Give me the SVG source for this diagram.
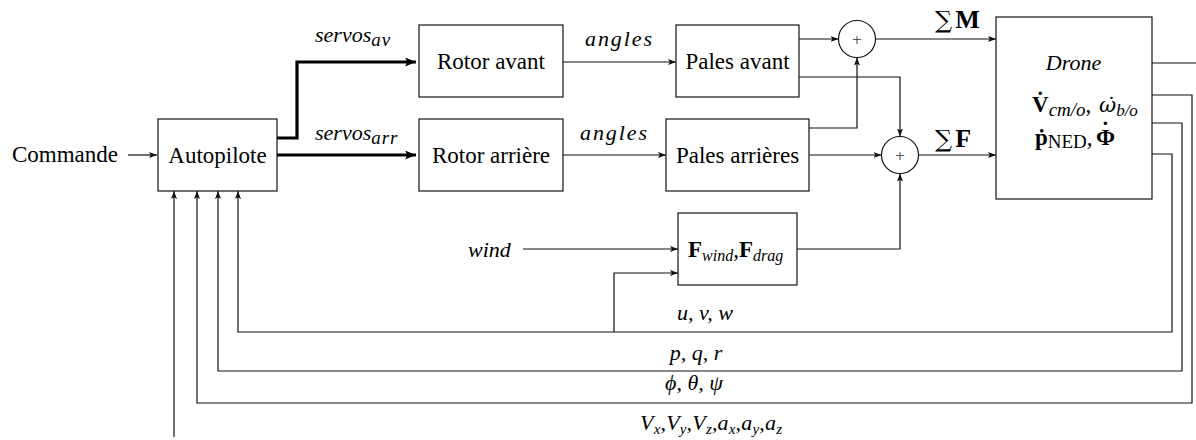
<svg xmlns="http://www.w3.org/2000/svg" width="1196" height="440" viewBox="0 0 1196 440">
<style>
.box{fill:#fff;stroke:#111;stroke-width:1.2}
.ln{fill:none;stroke:#111;stroke-width:1.2}
.thick{fill:none;stroke:#000;stroke-width:3.2}
.t{font-family:"Liberation Serif","Times New Roman",serif;font-size:23px;fill:#000}
.mi{font-family:"Liberation Serif","Times New Roman",serif;font-style:italic;font-size:22px;fill:#000}
.dv{font-family:"DejaVu Serif",serif}
.plus{font-family:"DejaVu Sans",sans-serif;font-size:13px;fill:#555}
</style>
<defs>
<marker id="ar" markerUnits="userSpaceOnUse" markerWidth="10" markerHeight="8" refX="8" refY="3" orient="auto">
<path d="M0,0 L8,3 L0,6 L1.8,3 z" fill="#111"/>
</marker>
<marker id="art" markerUnits="userSpaceOnUse" markerWidth="14" markerHeight="10" refX="11" refY="4.5" orient="auto">
<path d="M0,0 L11,4.5 L0,9 L2.5,4.5 z" fill="#000"/>
</marker>
</defs>

<g id="connectors">
<path class="ln" d="M128,155 H157" marker-end="url(#ar)"/>
<path class="thick" d="M277,138 H297 V62 H416" marker-end="url(#art)"/>
<path class="thick" d="M277,155 H416" marker-end="url(#art)"/>
<path class="ln" d="M563,62 H676" marker-end="url(#ar)"/>
<path class="ln" d="M563,155 H666" marker-end="url(#ar)"/>
<path class="ln" d="M799,39 H838.5" marker-end="url(#ar)"/>
<path class="ln" d="M799,77 H900 V136.5" marker-end="url(#ar)"/>
<path class="ln" d="M809,128 H857 V57.5" marker-end="url(#ar)"/>
<path class="ln" d="M809,155 H881.5" marker-end="url(#ar)"/>
<path class="ln" d="M875.5,39 H996" marker-end="url(#ar)"/>
<path class="ln" d="M918.5,155 H996" marker-end="url(#ar)"/>
<path class="ln" d="M523,249 H678" marker-end="url(#ar)"/>
<path class="ln" d="M797,249 H900 V173.5" marker-end="url(#ar)"/>
<path class="ln" d="M1152,63 H1196"/>
<path class="ln" d="M1152,95 H1192 V403 H197 V191" marker-end="url(#ar)"/>
<path class="ln" d="M1152,123 H1182 V371 H218 V191" marker-end="url(#ar)"/>
<path class="ln" d="M1152,154 H1172 V332 H238 V191" marker-end="url(#ar)"/>
<path class="ln" d="M614,332 V273 H678" marker-end="url(#ar)"/>
<path class="ln" d="M174,437 V191" marker-end="url(#ar)"/>
<text class="mi" x="315" y="42">servos<tspan font-size="19" letter-spacing="1" dy="4">av</tspan></text>
<text class="mi" x="315" y="140">servos<tspan font-size="19" letter-spacing="1" dy="4">arr</tspan></text>
<text class="mi" x="585" y="46" font-size="24" textLength="67" lengthAdjust="spacing">angles</text>
<text class="mi" x="580" y="140" font-size="24" textLength="67" lengthAdjust="spacing">angles</text>
<text class="t" x="935" y="28"><tspan font-family="DejaVu Serif" font-size="24">∑</tspan><tspan font-weight="bold" font-size="26" dx="3">M</tspan></text>
<text class="t" x="935" y="147"><tspan font-family="DejaVu Serif" font-size="24">∑</tspan><tspan font-weight="bold" font-size="26" dx="3">F</tspan></text>
<text class="mi" x="705" y="320" text-anchor="middle">u, v, w</text>
<text class="mi" x="696" y="360" text-anchor="middle">p, q, r</text>
<text class="mi" x="694" y="390" text-anchor="middle">ϕ, θ, ψ</text>
<text class="mi" x="640" y="430" textLength="142" lengthAdjust="spacing">V<tspan font-size="15" dy="4">x</tspan><tspan dy="-4">,V</tspan><tspan font-size="15" dy="4">y</tspan><tspan dy="-4">,V</tspan><tspan font-size="15" dy="4">z</tspan><tspan dy="-4">,a</tspan><tspan font-size="15" dy="4">x</tspan><tspan dy="-4">,a</tspan><tspan font-size="15" dy="4">y</tspan><tspan dy="-4">,a</tspan><tspan font-size="15" dy="4">z</tspan></text>
<text class="mi" x="468" y="257" font-size="23">wind</text>
<text class="t" x="12" y="162">Commande</text>
</g>

<g id="autopilote">
<rect class="box" x="158" y="119" width="119" height="72"/>
<text class="t" x="217.5" y="163" text-anchor="middle">Autopilote</text>
</g>
<g id="rotor-avant">
<rect class="box" x="419" y="25" width="144" height="72"/>
<text class="t" x="491" y="69" text-anchor="middle">Rotor avant</text>
</g>
<g id="rotor-arriere">
<rect class="box" x="419" y="119" width="144" height="72"/>
<text class="t" x="491" y="163" text-anchor="middle">Rotor arrière</text>
</g>
<g id="pales-avant">
<rect class="box" x="676" y="25" width="123" height="72"/>
<text class="t" x="737.5" y="69" text-anchor="middle">Pales avant</text>
</g>
<g id="pales-arrieres">
<rect class="box" x="666" y="119" width="143" height="72"/>
<text class="t" x="737.5" y="163" text-anchor="middle">Pales arrières</text>
</g>
<g id="forces">
<rect class="box" x="678" y="213" width="119" height="72"/>
<text class="t" x="688" y="257"><tspan font-weight="bold">F</tspan><tspan font-style="italic" font-size="16" dy="4">wind</tspan><tspan dy="-4">,</tspan><tspan font-weight="bold">F</tspan><tspan font-style="italic" font-size="16" dy="4">drag</tspan></text>
</g>
<g id="sum-m">
<circle class="box" cx="857" cy="39" r="18.5"/>
<text class="plus" x="857" y="43.5" text-anchor="middle">+</text>
</g>
<g id="sum-f">
<circle class="box" cx="900" cy="155" r="18.5"/>
<text class="plus" x="900" y="159.5" text-anchor="middle">+</text>
</g>
<g id="drone">
<rect class="box" x="996" y="17" width="156" height="182"/>
<text class="mi" x="1073.5" y="70" text-anchor="middle" font-size="26">Drone</text>
<text class="t" x="1032" y="112" font-size="24"><tspan font-weight="bold">V̇</tspan><tspan font-style="italic" font-size="19" dy="4">cm/o</tspan><tspan dy="-4">,</tspan><tspan x="1099" class="dv" font-style="italic" font-size="21">ω̇</tspan><tspan font-style="italic" font-size="17" dy="4">b/o</tspan></text>
<text class="t" x="1035" y="145" font-size="24"><tspan font-weight="bold">ṗ</tspan><tspan font-size="19" dy="3">NED</tspan><tspan dy="-3">,</tspan><tspan x="1096" font-weight="bold">Φ</tspan><tspan font-weight="bold" dx="-13.5" dy="-7">˙</tspan></text>
</g>
</svg>
